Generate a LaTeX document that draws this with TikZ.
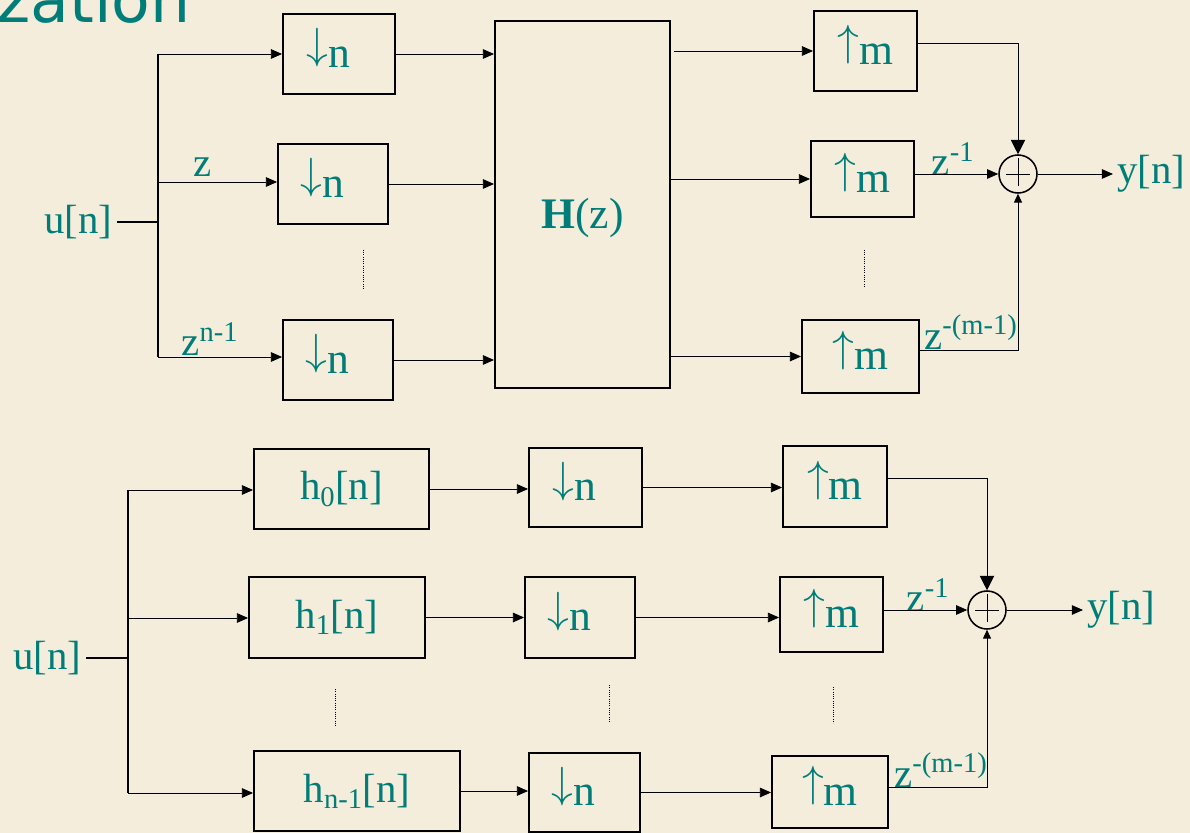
\RequirePackage{fix-cm}
\documentclass[tikz,border=0pt]{standalone}
\usepackage{fontspec}
\setmainfont{Liberation Serif}
\newfontfamily\titlefont{DejaVu Sans}
\usepackage{xcolor}
\usepackage{tikz}
\usetikzlibrary{
    arrows.meta,
    positioning,
    calc
}
\definecolor{parchment}{RGB}{245,237,219}
\definecolor{tealtxt}{RGB}{0,125,120}
\newcommand{\downsamp}{\rule[-0.3cm]{0pt}{0.3cm}\raisebox{0.19em}{$\downarrow$}n\hspace*{0.55cm}}
\newcommand{\upsamp}{\rule[-0.3cm]{0pt}{0.3cm}\raisebox{0.19em}{$\uparrow$}m}

\begin{document}
\begin{tikzpicture}[
        x=0.025cm, y=-0.025cm,
        block/.style={
            rectangle,
            draw,
            line width=1.3pt,
            inner sep=0pt,
            text=tealtxt,
            font=\fontsize{31}{36}\selectfont
        },
        lbl/.style={
            inner xsep=3pt,
            inner ysep=0pt,
            text=tealtxt,
            font=\fontsize{29}{34}\selectfont
        },
        sumnode/.style={
            circle,
            draw,
            line width=1.1pt,
            minimum size=0.95cm,
            inner sep=0pt,
            path picture={
                \draw[line width=0.5pt]
                    ([xshift=-0.3cm]path picture bounding box.center)
                    -- ([xshift=0.3cm]path picture bounding box.center);
                \draw[line width=0.5pt]
                    ([yshift=-0.3cm]path picture bounding box.center)
                    -- ([yshift=0.4cm]path picture bounding box.center);
            }
        },
        line/.style={
            line width=0.6pt,
            -{Triangle[length=0.28cm,width=0.24cm]}
        },
        bigline/.style={
            line width=0.6pt,
            -{Triangle[length=0.36cm,width=0.36cm]}
        },
        smallline/.style={
            line width=0.6pt,
            -{Triangle[length=0.22cm,width=0.2cm]}
        },
        trunk/.style={
            line width=1.2pt
        },
        dots/.style={
            line width=0.7pt,
            dash pattern=on 0.7pt off 0.9pt
        }
    ]

    \useasboundingbox (0,0) rectangle (1190,833);
    \clip (0,0) rectangle (1190,833);
    \fill[parchment] (0,0) rectangle (1190,833);

    \node[anchor=base west, inner sep=0pt, text=tealtxt,
        font=\titlefont\fontsize{45}{50}\selectfont] (title) at (-3,23) {zation};

    % polyphase form
    \node[lbl, anchor=east] (uin) at (117,222) {u[n]};
    \coordinate (a1) at (158,54);
    \coordinate (a2) at (158,182);
    \coordinate (a3) at (158,357);

    \node[block, minimum width=2.8cm, minimum height=2cm] (d1) at (339,54) {\downsamp};
    \node[block, minimum width=2.75cm, minimum height=2cm] (d2) at (333,184) {\downsamp};
    \node[block, minimum width=2.75cm, minimum height=2cm] (d3) at (338,360) {\downsamp};

    \node[block, minimum width=4.375cm, minimum height=9.175cm] (H) at (582.5,204.5)
        {\raisebox{-0.6cm}[0pt][0pt]{\textbf{H}(z)}};

    \node[block, minimum width=2.575cm, minimum height=2cm] (p1) at (865.5,51) {\upsamp};
    \node[block, minimum width=2.575cm, minimum height=1.9cm] (p2) at (862.5,179) {\upsamp};
    \node[block, minimum width=2.925cm, minimum height=1.825cm] (p3) at (860.5,356.5) {\upsamp};

    \node[sumnode] (s1) at (1018,174) {};
    \node[lbl, anchor=west] (yout) at (1113,174) {y[n]};

    \node[lbl] (zA) at (203,167) {z};
    \node[lbl] (zB) at (210,339) {z\textsuperscript{n-1}};
    \node[lbl] (zC) at (953,159) {z\textsuperscript{-1}};
    \node[lbl] (zD) at (971,332) {z\textsuperscript{-(m-1)}};

    \draw[trunk] (uin.east) -- (uin.east -| a1);
    \draw[trunk] (a1) -- (a3);
    \draw[line] (a1) -- (d1.west);
    \draw[line] (a2) -- (a2 -| d2.west);
    \draw[line] (a3) -- (a3 -| d3.west);

    \draw[line] (d1.east) -- (d1.east -| H.west);
    \draw[line] (d2.east) -- (d2.east -| H.west);
    \draw[line] (d3.east) -- (d3.east -| H.west);

    \draw[line] ([xshift=0.07cm]H.east |- p1.west) -- (p1.west);
    \draw[line] (H.east |- p2.west) -- (p2.west);
    \draw[line] (H.east |- p3.west) -- (p3.west);

    \draw[bigline] ([yshift=0.2cm]p1.east) -| (s1.north);
    \draw[line] (p2.east |- s1.west) -- (s1.west);
    \draw[smallline] ([yshift=0.14cm]p3.east) -| (s1.south);
    \draw[line] (s1.east) -- (yout.west);

    \draw[dots] (363,250) -- (363,290);
    \draw[dots] (864,250) -- (864,288);

    % filter bank form
    \node[lbl, anchor=east] (uin2) at (86,658) {u[n]};
    \coordinate (b1) at (128,490);
    \coordinate (b2) at (128,618);
    \coordinate (b3) at (128,793);

    \node[block, font=\fontsize{29}{34}\selectfont, minimum width=4.375cm, minimum height=2cm]
        (h0) at (341.5,489) {h\textsubscript{0}[n]};
    \node[block, font=\fontsize{29}{34}\selectfont, minimum width=4.4cm, minimum height=2.025cm]
        (h1) at (337,617.5) {h\textsubscript{1}[n]};
    \node[block, font=\fontsize{29}{34}\selectfont, minimum width=5.15cm, minimum height=2cm]
        (hn) at (357,791) {h\textsubscript{n-1}[n]};

    \node[block, minimum width=2.825cm, minimum height=1.975cm] (q1) at (585.5,487.5) {\downsamp};
    \node[block, minimum width=2.75cm, minimum height=2.025cm] (q2) at (580,617.5) {\downsamp};
    \node[block, minimum width=2.775cm, minimum height=1.975cm] (q3) at (584.5,792.5) {\downsamp};

    \node[block, minimum width=2.6cm, minimum height=2.025cm] (r1) at (835,486.5) {\upsamp};
    \node[block, minimum width=2.575cm, minimum height=1.875cm] (r2) at (831.5,614.5) {\upsamp};
    \node[block, minimum width=2.9cm, minimum height=1.8cm] (r3) at (830,792) {\upsamp};

    \node[sumnode] (s2) at (987,610) {};
    \node[lbl, anchor=west] (yout2) at (1083,610) {y[n]};

    \node[lbl] (zE) at (928,595) {z\textsuperscript{-1}};
    \node[lbl] (zF) at (941,770) {z\textsuperscript{-(m-1)}};

    \draw[trunk] (uin2.east) -- (uin2.east -| b1);
    \draw[trunk] (b1) -- (b3);
    \draw[line] (b1) -- (b1 -| h0.west);
    \draw[line] (b2) -- (b2 -| h1.west);
    \draw[line] (b3) -- (b3 -| hn.west);

    \draw[line] (h0.east) -- (h0.east -| q1.west);
    \draw[line] (h1.east) -- (h1.east -| q2.west);
    \draw[line] (hn.east) -- (hn.east -| q3.west);

    \draw[line] (q1.east) -- (q1.east -| r1.west);
    \draw[line] (q2.east) -- (q2.east -| r2.west);
    \draw[line] (q3.east) -- (q3.east -| r3.west);

    \draw[bigline] ([yshift=0.19cm]r1.east) -| (s2.north);
    \draw[line] (r2.east |- s2.west) -- (s2.west);
    \draw[smallline] ([yshift=0.125cm]r3.east) -| (s2.south);
    \draw[line] (s2.east) -- (yout2.west);

    \draw[dots] (335,689) -- (335,727);
    \draw[dots] (609,685) -- (609,723);
    \draw[dots] (833,687) -- (833,723);

\end{tikzpicture}
\end{document}
